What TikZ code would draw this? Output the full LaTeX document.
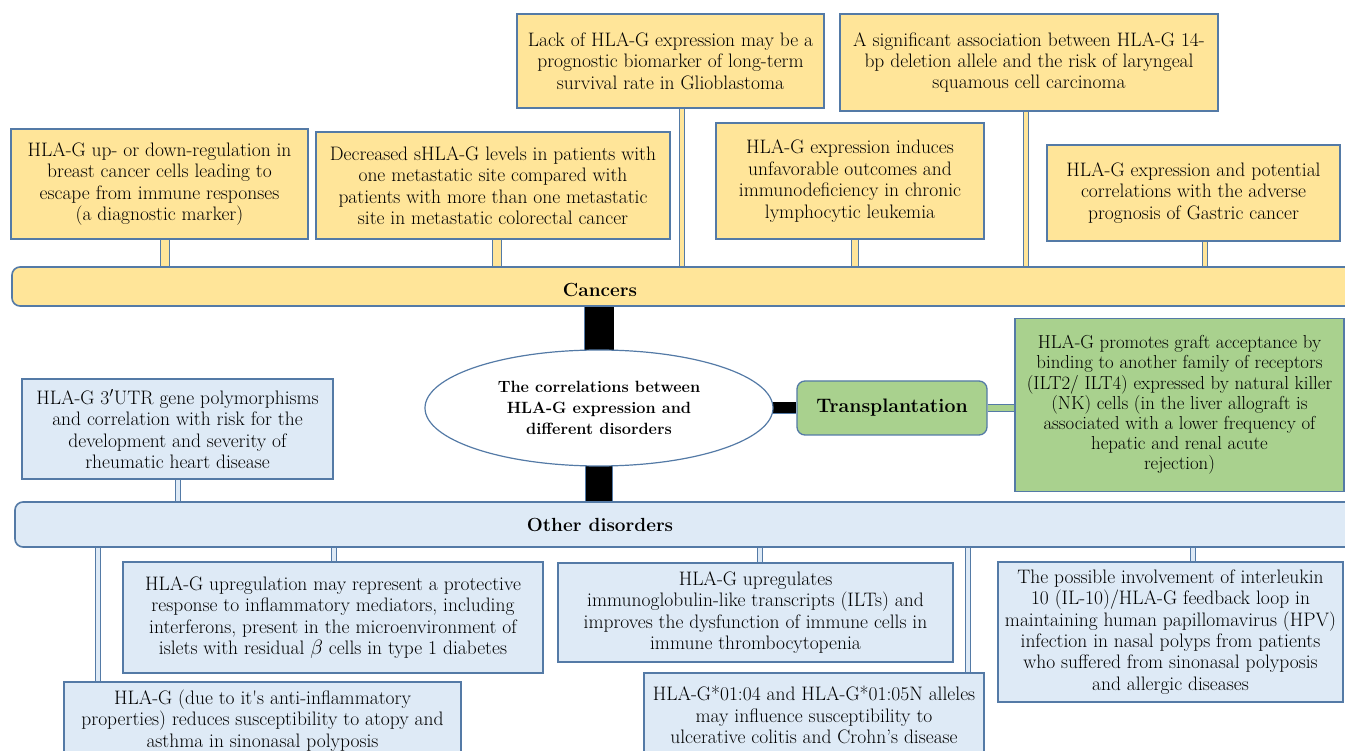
\documentclass[tikz,border=0pt]{standalone}
\usetikzlibrary{shapes.geometric,backgrounds}
\definecolor{bord}{RGB}{84,122,166}
\definecolor{yel}{RGB}{255,229,153}
\definecolor{lblue}{RGB}{222,234,246}
\definecolor{grn}{RGB}{169,209,142}
\begin{document}
\begin{tikzpicture}[x=1pt,y=-1pt,
  base/.style={draw=bord, line width=1.3pt, inner sep=0pt, align=center, rectangle,
    font=\fontsize{19.5}{21.4}\selectfont},
  ybox/.style={base, fill=yel},
  bbox/.style={base, fill=lblue},
  gbox/.style={base, fill=grn},
  barbox/.style={draw=bord, line width=1.6pt, rounded corners=8pt, rectangle, inner sep=0pt},
  bartext/.style={font=\bfseries\fontsize{#1}{20}\selectfont, inner sep=1pt},
  ystem/.style={draw=bord, line width=1.2pt, double=yel, double distance=#1},
  bstem/.style={draw=bord, line width=1.1pt, double=lblue, double distance=#1},
  gstem/.style={draw=bord, line width=1.1pt, double=grn, double distance=#1},
  kstem/.style={draw=bord, line width=0.8pt, double=black, double distance=#1}
]
\useasboundingbox (0,0) rectangle (1345,751);
\clip (0,0) rectangle (1345,751);

% bars
\node[barbox, fill=yel, minimum width=1408pt, minimum height=39pt] (cancers) at (716,286.5) {};
\node[bartext=19] (cancerslabel) at (600,289.5) {Cancers};
\node[barbox, fill=lblue, minimum width=1405pt, minimum height=45pt] (other) at (717.5,524.5) {};
\node[bartext=19] (otherlabel) at (600,525) {Other disorders};

% cancer boxes
\node[ybox, minimum width=297pt, minimum height=110pt] (c1) at (159.5,184)
  {HLA-G up- or down-regulation in\\breast cancer cells leading to\\escape from immune responses\\(a diagnostic marker)};
\node[ybox, minimum width=354pt, minimum height=107pt] (c2) at (493,185.5)
  {Decreased sHLA-G levels in patients with\\one metastatic site compared with\\patients with more than one metastatic\\site in metastatic colorectal cancer};
\node[ybox, minimum width=307pt, minimum height=94pt] (c3) at (670.5,61)
  {Lack of HLA-G expression may be a\\prognostic biomarker of long-term\\survival rate in Glioblastoma};
\node[ybox, minimum width=268pt, minimum height=116pt] (c4) at (850,181)
  {HLA-G expression induces\\unfavorable outcomes and\\immunodeficiency in chronic\\lymphocytic leukemia};
\node[ybox, minimum width=378pt, minimum height=97pt] (c5) at (1029,62.5)
  {A significant association between HLA-G 14-\\bp deletion allele and the risk of laryngeal\\squamous cell carcinoma};
\node[ybox, minimum width=293pt, minimum height=96pt] (c6) at (1193.5,193)
  {HLA-G expression and potential\\correlations with the adverse\\prognosis of Gastric cancer};

% centre
\node[ellipse, draw=bord, line width=1.2pt, fill=white, minimum width=348pt, minimum height=116pt,
  inner sep=0pt, align=center, font=\bfseries\fontsize{16.3}{21}\selectfont] (ell) at (599,408)
  {The correlations between\\HLA-G expression and\\different disorders};

% transplantation
\node[gbox, rounded corners=8pt, minimum width=190pt, minimum height=54pt,
  font=\bfseries\fontsize{19.5}{22}\selectfont] (trans) at (892,408) {Transplantation};
\node[gbox, minimum width=329pt, minimum height=173pt, font=\fontsize{18.8}{20.2}\selectfont] (graft) at (1179.5,405)
  {HLA-G promotes graft acceptance by\\binding to another family of receptors\\(ILT2/ ILT4) expressed by natural killer\\(NK) cells (in the liver allograft is\\associated with a lower frequency of\\hepatic and renal acute\\rejection)};

% other disorders boxes
\node[bbox, minimum width=311pt, minimum height=100pt] (o0) at (177.5,429)
  {HLA-G 3$'$UTR gene polymorphisms\\and correlation with risk for the\\development and severity of\\rheumatic heart disease};
\node[bbox, minimum width=420pt, minimum height=111pt] (o1) at (333,617.5)
  {HLA-G upregulation may represent a protective\\response to inflammatory mediators, including\\interferons, present in the microenvironment of\\islets with residual $\beta$ cells in type 1 diabetes};
\node[bbox, minimum width=397pt, minimum height=77pt] (o2) at (262.5,720.5)
  {HLA-G (due to it\textquotesingle s anti-inflammatory\\properties) reduces susceptibility to atopy and\\asthma in sinonasal polyposis};
\node[bbox, minimum width=395pt, minimum height=99pt] (o3) at (755.5,612.5)
  {HLA-G upregulates\\immunoglobulin-like transcripts (ILTs) and\\improves the dysfunction of immune cells in\\immune thrombocytopenia};
\node[bbox, minimum width=340pt, minimum height=84pt] (o4) at (814,715)
  {HLA-G*01:04 and HLA-G*01:05N alleles\\may influence susceptibility to\\ulcerative colitis and Crohn’s disease};
\node[bbox, minimum width=345pt, minimum height=140pt] (o5) at (1170.5,632)
  {The possible involvement of interleukin\\10 (IL-10)/HLA-G feedback loop in\\maintaining human papillomavirus (HPV)\\infection in nasal polyps from patients\\who suffered from sinonasal polyposis\\and allergic diseases};

\begin{pgfonlayer}{background}
\fill[white] (0,0) rectangle (1345,751);
% yellow stems
\draw[ystem=7.5pt] ([xshift=5.5pt]c1.south) -- ([xshift=5.5pt]c1.south |- cancers.north);
\draw[ystem=7.5pt] ([xshift=4pt]c2.south) -- ([xshift=4pt]c2.south |- cancers.north);
\draw[ystem=3.5pt] ([xshift=11.5pt]c3.south) -- ([xshift=11.5pt]c3.south |- cancers.north);
\draw[ystem=5.5pt] ([xshift=5pt]c4.south) -- ([xshift=5pt]c4.south |- cancers.north);
\draw[ystem=3.5pt] ([xshift=-3pt]c5.south) -- ([xshift=-3pt]c5.south |- cancers.north);
\draw[ystem=3.5pt] ([xshift=11.5pt]c6.south) -- ([xshift=11.5pt]c6.south |- cancers.north);
% black stems
\draw[kstem=29pt] (ell.center) -- (ell.center |- cancers.south);
\draw[kstem=26pt] (ell.center) -- (ell.center |- other.north);
\draw[kstem=11pt] (ell.center) -- (trans.west);
% green stem
\draw[gstem=5.5pt] (trans.east) -- (trans.east -| graft.west);
% blue stems
\draw[bstem=3.8pt] ([xshift=0.5pt]o0.south) -- ([xshift=0.5pt]o0.south |- other.north);
\draw[bstem=3.8pt] ([xshift=1pt]o1.north) -- ([xshift=1pt]o1.north |- other.south);
\draw[bstem=3.8pt] ([xshift=-164.5pt]o2.north) -- ([xshift=-164.5pt]o2.north |- other.south);
\draw[bstem=3.8pt] ([xshift=4.5pt]o3.north) -- ([xshift=4.5pt]o3.north |- other.south);
\draw[bstem=3.8pt] ([xshift=154pt]o4.north) -- ([xshift=154pt]o4.north |- other.south);
\draw[bstem=3.8pt] ([xshift=22.5pt]o5.north) -- ([xshift=22.5pt]o5.north |- other.south);
\end{pgfonlayer}
\end{tikzpicture}
\end{document}
